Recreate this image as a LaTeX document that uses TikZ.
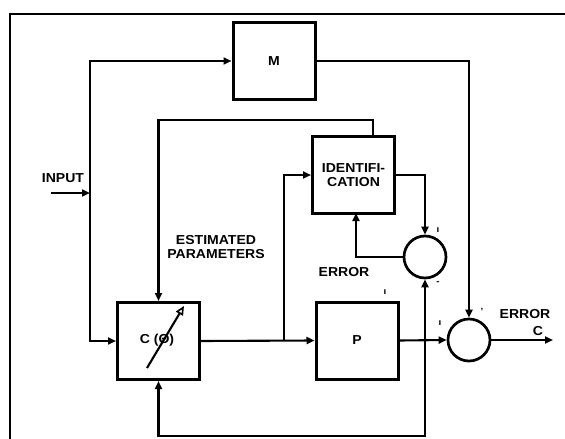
\documentclass[tikz,border=0pt]{standalone}
\usepackage{fontspec}
\setmainfont{Liberation Sans}[FakeStretch=1.08]
\usetikzlibrary{arrows.meta}
\begin{document}
\begin{tikzpicture}[x=1pt,y=-1pt,
  blk/.style={draw, line width=3pt, minimum width=82pt, minimum height=77pt, inner sep=0pt, font=\fontsize{13}{14}\selectfont\bfseries, align=center},
  sumc/.style={draw, circle, line width=2.7pt, minimum size=42pt, inner sep=0pt},
  wire/.style={line width=2.1pt},
  arr/.style={wire, -{Triangle[length=8pt,width=7pt]}},
  lbl/.style={font=\fontsize{13}{14.5}\selectfont\bfseries, align=center, inner sep=0pt},
  sgn/.style={font=\fontsize{9}{9}\selectfont\bfseries, inner sep=0pt}]
\useasboundingbox (0,0) rectangle (565,439);
% frame
\coordinate (fbl) at (10,439);
\coordinate (ftl) at (10,14);
\coordinate (ftr) at (565,14);
\draw[line width=2.1pt] (fbl) -- (ftl) -- (ftr);
% blocks
\node[blk] (M) at (274,61) {M};
\node[blk] (ID) at (353.5,175) {IDENTIFI-\\CATION};
\node[blk] (C) at (158.5,341) {};
\node[blk] (P) at (357,340.5) {P};
\node[sumc] (S1) at (425,257) {};
\node[sumc] (S2) at (469,340) {};
% C(theta) label and adjustable arrow
\node[lbl] (Clbl) at (157,340) {C (Θ)};
\coordinate (ca1) at (147,368);
\coordinate (ca2) at (184,306);
\draw[wire, -{Triangle[open,length=9pt,width=8pt,line width=1.6pt]}] (ca1) -- (ca2);
% input
\coordinate (inS) at (51,193);
\coordinate (jin) at (90,193);
\draw[arr] (inS) -- (jin);
\draw[arr] (jin) |- (M.west);
\draw[arr] (jin) |- (C.west);
% model output to comparator
\draw[arr] (M.east) -| (S2.north);
% estimated parameters loop
\coordinate (idt) at (373,120);
\draw[arr] (ID.north -| idt) -- (idt) -| (C.north);
% controller to plant, branch to identification
\coordinate (j1) at (284,341);
\draw[arr] (C.east) -- (P.west);
\draw[arr] (j1) |- (ID.west);
% identification output to S1
\draw[arr] (ID.east) -| (S1.north);
\coordinate (idb) at (356,213);
\draw[arr] (S1.west) -| (idb);
% plant output
\draw[arr] (P.east) -- (S2.west);
\coordinate (out) at (553,340);
\draw[arr] (S2.east) -- (out);
% feedback
\coordinate (j2) at (425,340);
\coordinate (fb) at (425,436);
\draw[arr] (j2) -- (S1.south);
\draw[arr] (j2) -- (fb) -| (C.south);
% labels
\node[lbl] (tin) at (63,178) {INPUT};
\node[lbl] (test) at (216,247) {ESTIMATED\\PARAMETERS};
\node[lbl] (terr) at (344,272) {ERROR};
\node[lbl] (terc) at (525,314) {ERROR};
\node[lbl] (tc) at (538,331) {C};
% signs
\node[sgn] (s1p) at (438,230) {ı};
\node[sgn] (s1m) at (438,283) {-};
\node[sgn] (s2p) at (440,323) {ı};
\node[sgn] (s2m) at (482,311) {'};
\node[sgn] (spp) at (385,292) {ı};
\end{tikzpicture}
\end{document}
